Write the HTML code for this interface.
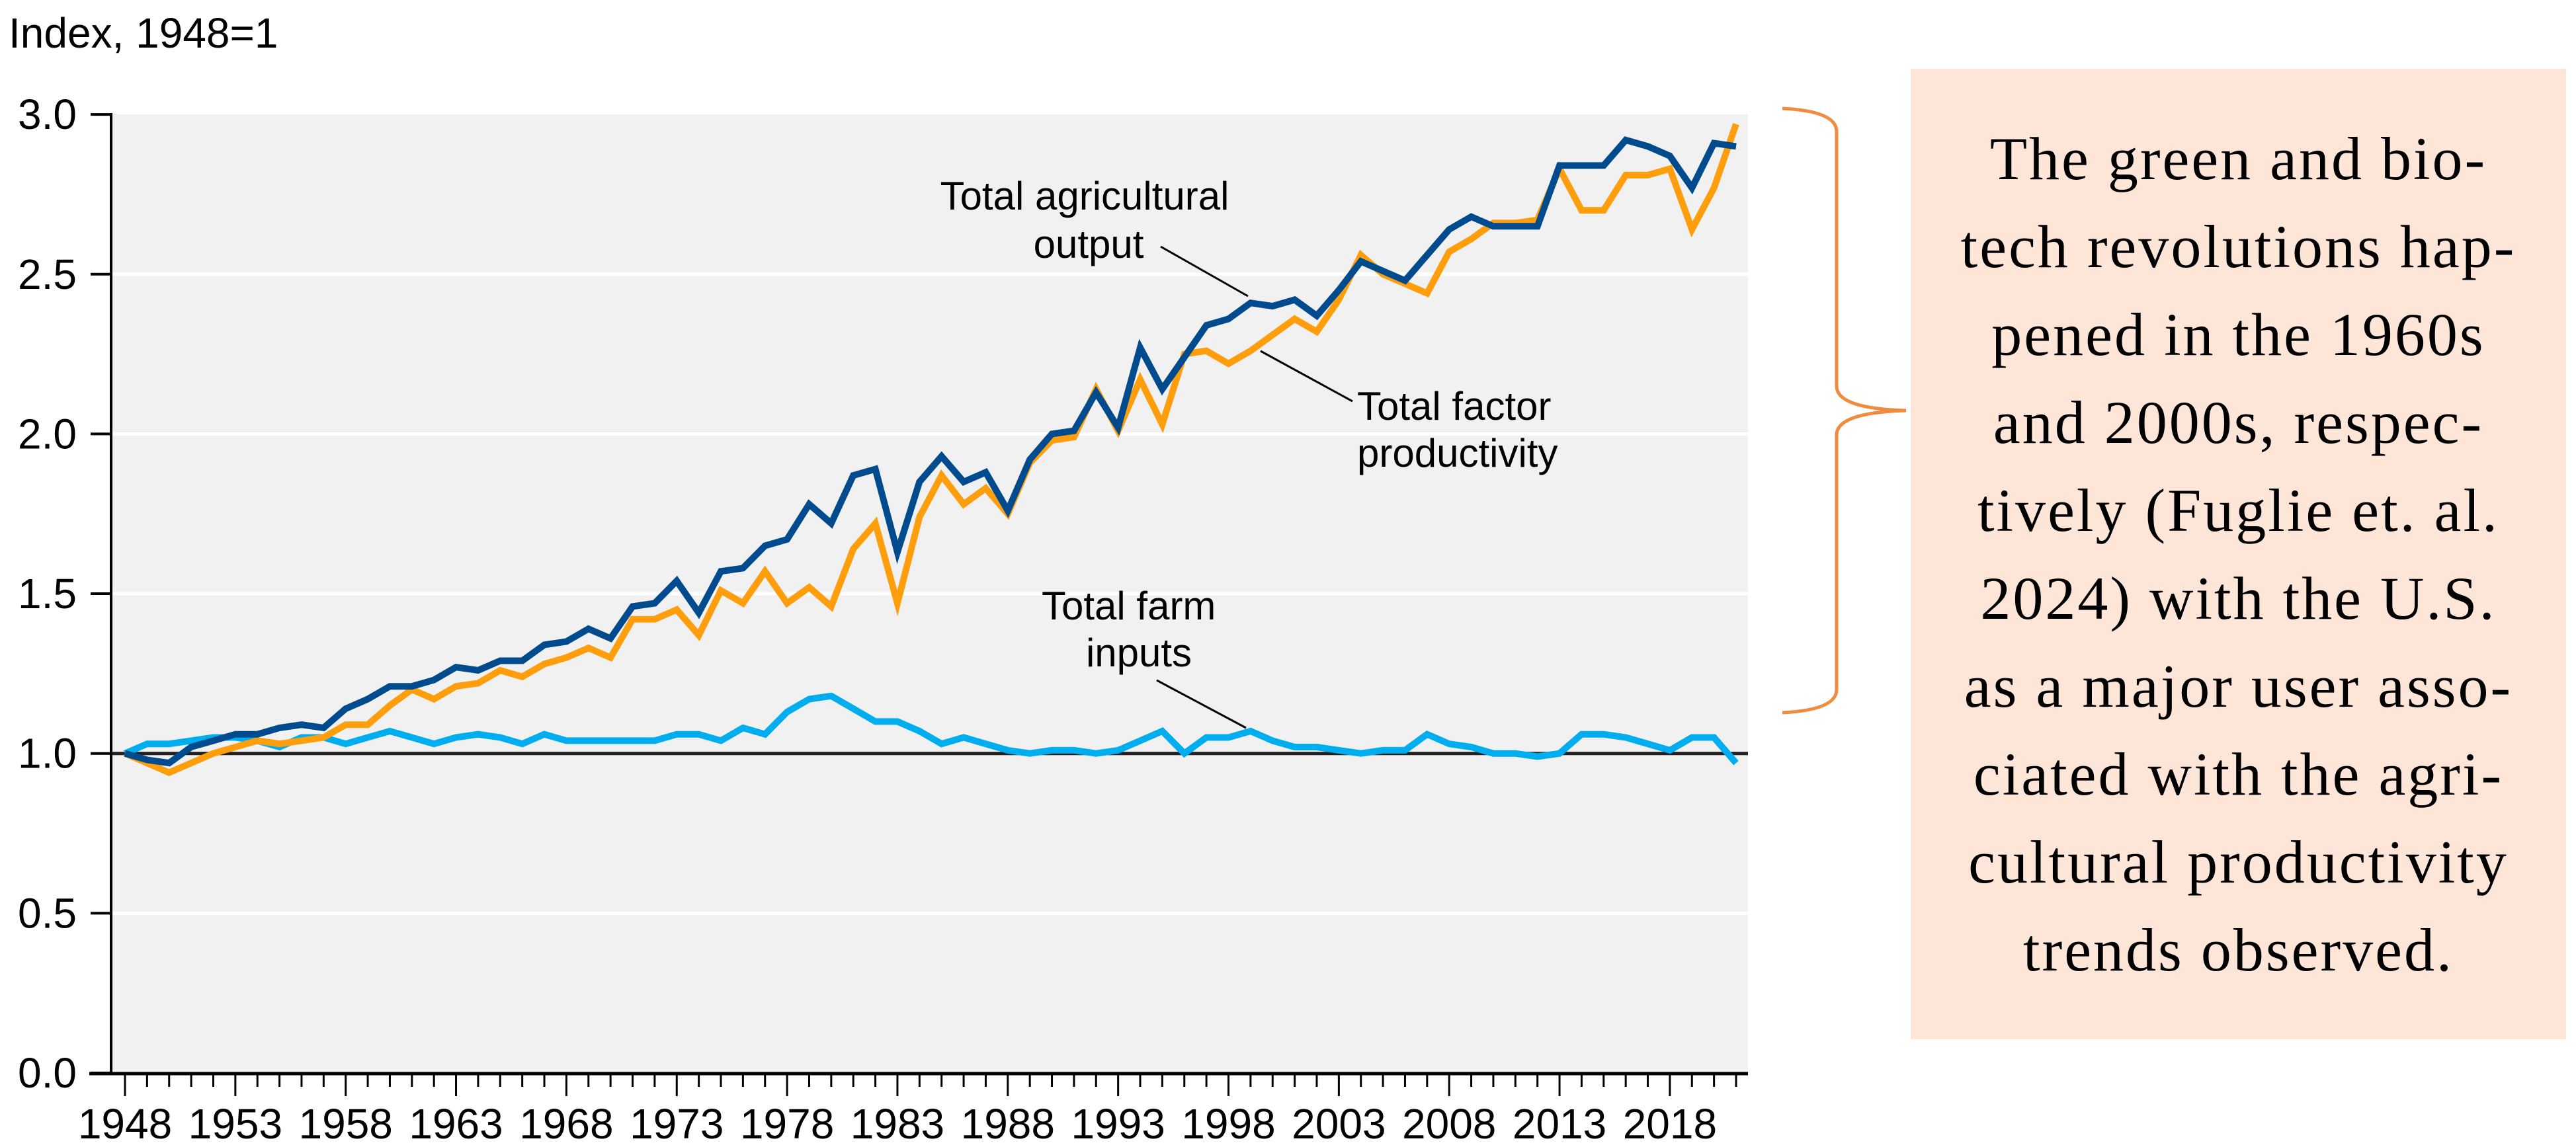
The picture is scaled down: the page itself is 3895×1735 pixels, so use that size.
<!DOCTYPE html>
<html><head><meta charset="utf-8"><style>
html,body{margin:0;padding:0;background:#fff;}
body{width:3895px;height:1735px;position:relative;overflow:hidden;font-family:"Liberation Sans",sans-serif;}
#note{position:absolute;left:2889px;top:104px;width:991px;height:1468px;background:#fde5d8;}
#note-text{position:absolute;left:0;top:70px;width:991px;text-align:center;font-family:"Liberation Serif",serif;font-size:92px;line-height:133px;letter-spacing:3px;color:#000;}
</style></head><body>
<svg id="chart" width="3895" height="1735" style="position:absolute;left:0;top:0">
  <text x="13" y="72" font-size="64" font-family="Liberation Sans, sans-serif">Index, 1948=1</text>
  <rect x="170" y="173" width="2473" height="1450" fill="#f1f1f1"/>
  <g id="grid"></g>
  <g id="series"></g>
  <g id="axes"></g>
  <g font-family="Liberation Sans, sans-serif" font-size="60" fill="#000" text-anchor="middle">
    <text x="1640" y="317">Total agricultural</text>
    <text x="1646" y="390">output</text>
    <line x1="1755" y1="373" x2="1887" y2="448" stroke="#000" stroke-width="3"/>
    <text x="2052" y="635" text-anchor="start">Total factor</text>
    <text x="2052" y="706" text-anchor="start">productivity</text>
    <line x1="1906" y1="531" x2="2045" y2="607" stroke="#000" stroke-width="3"/>
    <text x="1575" y="937" text-anchor="start">Total farm</text>
    <text x="1722" y="1008">inputs</text>
    <line x1="1749" y1="1029" x2="1884" y2="1101" stroke="#000" stroke-width="3"/>
  </g>
  <path d="M2695,164 Q2777,168 2777,199 L2777,584 Q2777,618 2882,621 Q2777,624 2777,658 L2777,1043 Q2777,1074 2695,1078" fill="none" stroke="#f08c40" stroke-width="5"/>
</svg>
<div id="note">
  <div id="note-text">The green and bio-<br>tech revolutions hap-<br>pened in the 1960s<br>and 2000s, respec-<br>tively (Fuglie et. al.<br>2024) with the U.S.<br>as a major user asso-<br>ciated with the agri-<br>cultural productivity<br>trends observed.</div>
</div>
<script>
const startYear = 1948;
const outputVals = [1.0,0.98,0.97,1.02,1.04,1.06,1.06,1.08,1.09,1.08,1.14,1.17,1.21,1.21,1.23,1.27,1.26,1.29,1.29,1.34,1.35,1.39,1.36,1.46,1.47,
1.54,1.44,1.57,1.58,1.65,1.67,1.78,1.72,1.87,1.89,1.63,1.85,1.93,1.85,1.88,1.76,1.92,2.00,2.01,2.13,2.02,2.27,2.14,2.24,2.34,
2.36,2.41,2.40,2.42,2.37,2.45,2.54,2.51,2.48,2.56,2.64,2.68,2.65,2.65,2.65,2.84,2.84,2.84,2.92,2.90,2.87,2.77,2.91,2.90];
const tfpVals = [1.0,0.97,0.94,0.97,1.0,1.02,1.04,1.03,1.04,1.05,1.09,1.09,1.15,1.20,1.17,1.21,1.22,1.26,1.24,1.28,1.30,1.33,1.30,1.42,1.42,
1.45,1.37,1.51,1.47,1.57,1.47,1.52,1.46,1.64,1.72,1.47,1.74,1.87,1.78,1.83,1.75,1.91,1.98,1.99,2.14,2.01,2.17,2.03,2.25,2.26,
2.22,2.26,2.31,2.36,2.32,2.42,2.56,2.50,2.47,2.44,2.57,2.61,2.66,2.66,2.67,2.83,2.70,2.70,2.81,2.81,2.83,2.64,2.77,2.97];
const inputVals = [1.0,1.03,1.03,1.04,1.05,1.05,1.04,1.02,1.05,1.05,1.03,1.05,1.07,1.05,1.03,1.05,1.06,1.05,1.03,1.06,1.04,1.04,1.04,1.04,1.04,
1.06,1.06,1.04,1.08,1.06,1.13,1.17,1.18,1.14,1.10,1.10,1.07,1.03,1.05,1.03,1.01,1.00,1.01,1.01,1.00,1.01,1.04,1.07,1.00,1.05,
1.05,1.07,1.04,1.02,1.02,1.01,1.00,1.01,1.01,1.06,1.03,1.02,1.00,1.00,0.99,1.00,1.06,1.06,1.05,1.03,1.01,1.05,1.05,0.97];
const yTicks = [0.0,0.5,1.0,1.5,2.0,2.5,3.0];
const yTickLabels = ["0.0","0.5","1.0","1.5","2.0","2.5","3.0"];
const xLabelYears = [1948,1953,1958,1963,1968,1973,1978,1983,1988,1993,1998,2003,2008,2013,2018];

const NS = "http://www.w3.org/2000/svg";
function xs(year){ return 189 + (year - 1948) * 33.37; }
function ys(v){ return 1623 - v * 483.3; }
function mk(tag, attrs, parent){ const e = document.createElementNS(NS, tag); for (const k in attrs) e.setAttribute(k, attrs[k]); parent.appendChild(e); return e; }

const grid = document.getElementById('grid');
yTicks.forEach(function(t){
  if (t === 0 || t === 3.0) return;
  const l = mk('line', {x1:170, x2:2643, y1:ys(t), y2:ys(t), stroke: t === 1.0 ? '#231f20' : '#ffffff', 'stroke-width': 5}, grid);
  
  
});

const series = document.getElementById('series');
function drawLine(vals, color, name){
  let d = '';
  vals.forEach(function(v, i){ d += (i ? 'L' : 'M') + xs(startYear + i).toFixed(1) + ',' + ys(v).toFixed(1); });
  const p = mk('path', {d:d, fill:'none', stroke:color, 'stroke-width':10, 'stroke-linejoin':'miter'}, series);
  
  
}
drawLine(inputVals, '#00aeef', 'line-total-farm-inputs');
drawLine(tfpVals, '#ff9e0d', 'line-total-factor-productivity');
drawLine(outputVals, '#004b8d', 'line-total-agricultural-output');

const axes = document.getElementById('axes');
const ya = mk('line', {x1:168, x2:168, y1:171, y2:1625, stroke:'#000', 'stroke-width':4}, axes);


const xa = mk('line', {x1:135, x2:2643, y1:1624, y2:1624, stroke:'#000', 'stroke-width':5}, axes);


yTicks.forEach(function(t, i){
  const tk = mk('line', {x1:137, x2:168, y1:ys(t), y2:ys(t), stroke:'#000', 'stroke-width':4}, axes);
  
  
  const tx = mk('text', {x:116, y:ys(t) + 22, 'text-anchor':'end', 'font-size':64, 'font-family':'Liberation Sans, sans-serif'}, axes);
  tx.textContent = yTickLabels[i];
  
  
});
for (let yr = 1948; yr <= 2021; yr++){
  const major = xLabelYears.indexOf(yr) >= 0;
  const tk = mk('line', {x1:xs(yr), x2:xs(yr), y1:1624, y2: major ? 1658 : 1644, stroke:'#000', 'stroke-width':3}, axes);
  
  
}
xLabelYears.forEach(function(yr){
  const tx = mk('text', {x:xs(yr), y:1722, 'text-anchor':'middle', 'font-size':64, 'font-family':'Liberation Sans, sans-serif'}, axes);
  tx.textContent = String(yr);
  
  
});
</script>
</body></html>
